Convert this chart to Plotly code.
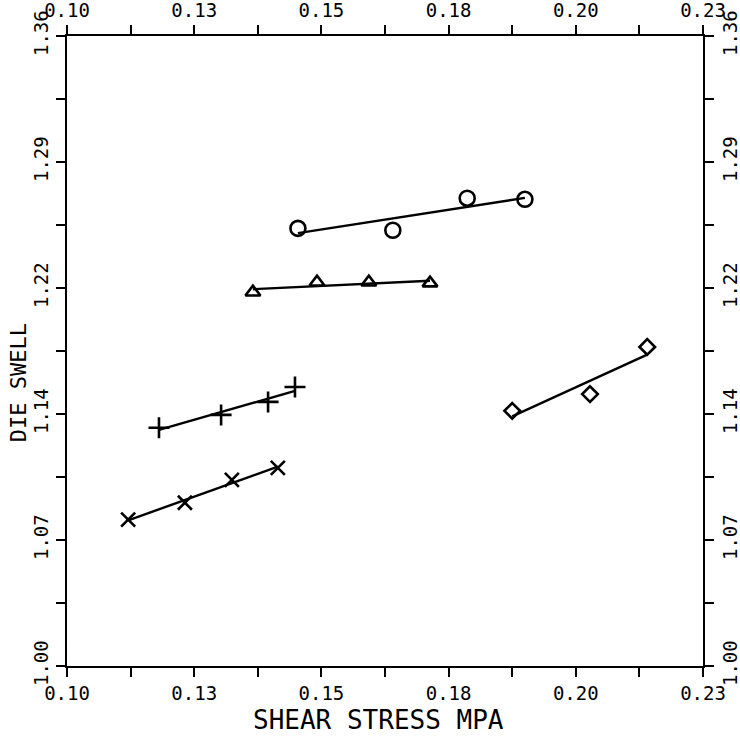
import numpy as np
import plotly.graph_objects as go

# ---- data ----
circle_x = [0.1472, 0.1666, 0.1818, 0.1936]
circle_y = [1.2501, 1.2490, 1.2673, 1.2667]
tri_x = [0.1380, 0.1511, 0.1617, 0.1742]
tri_y = [1.2136, 1.2193, 1.2193, 1.2188]
plus_x = [0.1188, 0.1315, 0.1411, 0.1466]
plus_y = [1.1361, 1.1435, 1.1509, 1.1594]
cross_x = [0.1125, 0.1241, 0.1337, 0.1431]
cross_y = [1.0836, 1.0933, 1.1064, 1.1132]
diam_x = [0.1910, 0.2069, 0.2186]
diam_y = [1.1458, 1.1554, 1.1823]

x_range = [0.10, 0.23]
y_range = [1.00, 1.36]
x_major = 0.026
y_major = 0.072

x_title = "SHEAR STRESS MPA"
y_title = "DIE SWELL"

series = [
    (circle_x, circle_y, "circle-open", 15),
    (tri_x, tri_y, "triangle-up-open", 13),
    (plus_x, plus_y, "cross-thin-open", 15),
    (cross_x, cross_y, "x-thin-open", 14),
    (diam_x, diam_y, "diamond-open", 12),
]

fig = go.Figure()
for xs, ys, sym, sz in series:
    xa = np.array(xs)
    ya = np.array(ys)
    k, b = np.polyfit(xa, ya, 1)
    xl = np.array([xa.min(), xa.max()])
    fig.add_trace(go.Scatter(x=xl, y=k * xl + b, mode="lines",
                             line=dict(color="black", width=2.4),
                             showlegend=False, hoverinfo="skip"))
    fig.add_trace(go.Scatter(x=xa, y=ya, mode="markers",
                             marker=dict(symbol=sym, size=sz, color="black",
                                         line=dict(color="black", width=2.6)),
                             showlegend=False))

# invisible trace so the mirrored (top/right) axes are drawn
fig.add_trace(go.Scatter(x=circle_x, y=circle_y, xaxis="x2", yaxis="y2",
                         mode="markers", marker=dict(opacity=0),
                         showlegend=False, hoverinfo="skip"))

tickfont = dict(family="DejaVu Sans Mono", size=19, color="black")
common_x = dict(range=x_range, tickmode="linear", tick0=x_range[0], dtick=x_major,
                tickformat=".2f", ticks="outside", ticklen=9, tickwidth=2,
                tickcolor="black", showline=True, linecolor="black", linewidth=2,
                showgrid=False, zeroline=False, tickfont=tickfont, automargin=False,
                minor=dict(ticks="outside", ticklen=9, tickwidth=2,
                           tickcolor="black", dtick=x_major / 2, tick0=x_range[0]))
common_y = dict(range=y_range, tickmode="linear", tick0=y_range[0], dtick=y_major,
                tickformat=".2f", ticks="outside", ticklen=9, tickwidth=2,
                tickcolor="black", showline=True, linecolor="black", linewidth=2,
                showgrid=False, zeroline=False, tickfont=tickfont, tickangle=-90,
                automargin=False,
                minor=dict(ticks="outside", ticklen=9, tickwidth=2,
                           tickcolor="black", dtick=y_major / 2, tick0=y_range[0]))

fig.update_layout(
    width=740, height=738,
    margin=dict(l=67, r=37, t=36, b=72),
    paper_bgcolor="white", plot_bgcolor="white",
    xaxis=dict(**common_x, side="bottom", anchor="y"),
    xaxis2=dict(**common_x, side="top", overlaying="x", anchor="y"),
    yaxis=dict(**common_y, side="left", anchor="x"),
    yaxis2=dict(**common_y, side="right", overlaying="y", anchor="x"),
    annotations=[
        dict(text=x_title, xref="paper", yref="paper", x=0.49, y=-0.086,
             xanchor="center", yanchor="middle", showarrow=False,
             font=dict(family="DejaVu Sans Mono", size=26, color="black")),
        dict(text=y_title, xref="paper", yref="paper", x=-0.076, y=0.45,
             xanchor="center", yanchor="middle", showarrow=False, textangle=-90,
             font=dict(family="DejaVu Sans Mono", size=22, color="black")),
    ],
)

fig.write_html("out.html", config={"displayModeBar": False},
               post_script="document.body.style.margin='0';")
